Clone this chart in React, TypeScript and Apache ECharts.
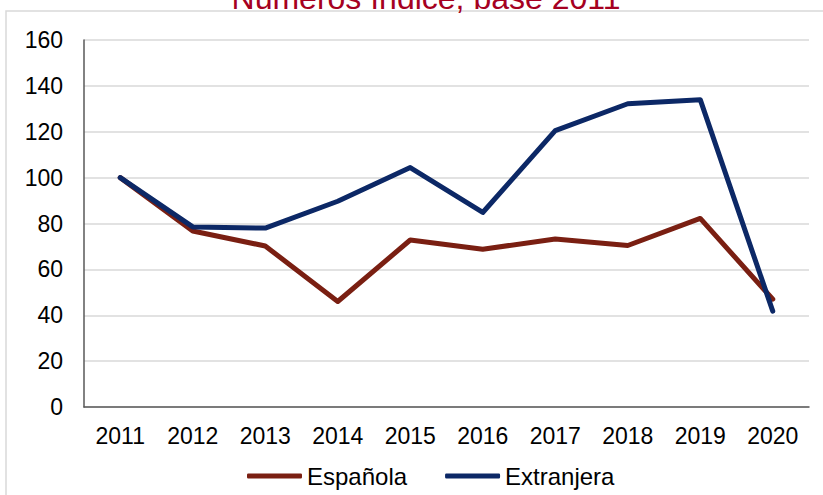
import React, { useEffect, useRef } from "react";
import * as echarts from "echarts";

const years = ["2011", "2012", "2013", "2014", "2015", "2016", "2017", "2018", "2019", "2020"];
const espanola = [100, 76.7, 70.2, 46.0, 72.8, 68.8, 73.2, 70.4, 82.2, 47.0];
const extranjera = [100, 78.5, 78.0, 89.7, 104.4, 84.8, 120.5, 132.2, 134.0, 41.8];
const titleText = "Números índice, base 2011";
const seriesNames = ["Española", "Extranjera"];
const colors = ["#7A1F12", "#0C2866"];

export default function App() {
  const ref = useRef<HTMLDivElement>(null);
  useEffect(() => {
    document.body.style.margin = "0";
    const chart = echarts.init(ref.current!, undefined, { renderer: "svg" });
    const font = "Arial, 'Liberation Sans', sans-serif";
    chart.setOption({
      animation: false,
      backgroundColor: "#ffffff",
      textStyle: { fontFamily: font },
      graphic: [
        {
          type: "rect",
          shape: { x: 6, y: 11, width: 1000, height: 1000 },
          style: { fill: "none", stroke: "#D9D9D9", lineWidth: 1.5 },
          silent: true,
        },
        {
          type: "text",
          x: 426,
          y: -2,
          style: {
            text: titleText,
            fill: "#A50021",
            font: `32px ${font}`,
            align: "center",
            verticalAlign: "middle",
          },
          silent: true,
        },
      ],
      grid: { left: 84, right: 14, top: 40, bottom: 88 },
      legend: {
        data: seriesNames,
        left: 247,
        top: 464,
        padding: 0,
        icon: "roundRect",
        itemWidth: 55,
        itemHeight: 5,
        itemGap: 38,
        textStyle: { fontSize: 24, color: "#000", fontFamily: font },
      },
      xAxis: {
        type: "category",
        data: years,
        boundaryGap: true,
        axisLine: { lineStyle: { color: "#595959", width: 1.5 } },
        axisTick: { show: false },
        axisLabel: { fontSize: 23, color: "#000", margin: 17, fontFamily: font },
      },
      yAxis: {
        type: "value",
        min: 0,
        max: 160,
        interval: 20,
        axisLine: { show: true, lineStyle: { color: "#595959", width: 1.5 } },
        axisTick: { show: false },
        splitLine: { lineStyle: { color: "#D9D9D9", width: 1.5 } },
        axisLabel: { fontSize: 23, color: "#000", margin: 21, fontFamily: font },
      },
      series: [
        {
          name: seriesNames[0],
          type: "line",
          data: espanola,
          showSymbol: false,
          symbol: "none",
          lineStyle: { color: colors[0], width: 5, cap: "round", join: "round" },
          itemStyle: { color: colors[0] },
        },
        {
          name: seriesNames[1],
          type: "line",
          data: extranjera,
          showSymbol: false,
          symbol: "none",
          lineStyle: { color: colors[1], width: 5, cap: "round", join: "round" },
          itemStyle: { color: colors[1] },
        },
      ],
    });
    return () => chart.dispose();
  }, []);
  return <div ref={ref} style={{ width: 823, height: 495 }} />;
}
